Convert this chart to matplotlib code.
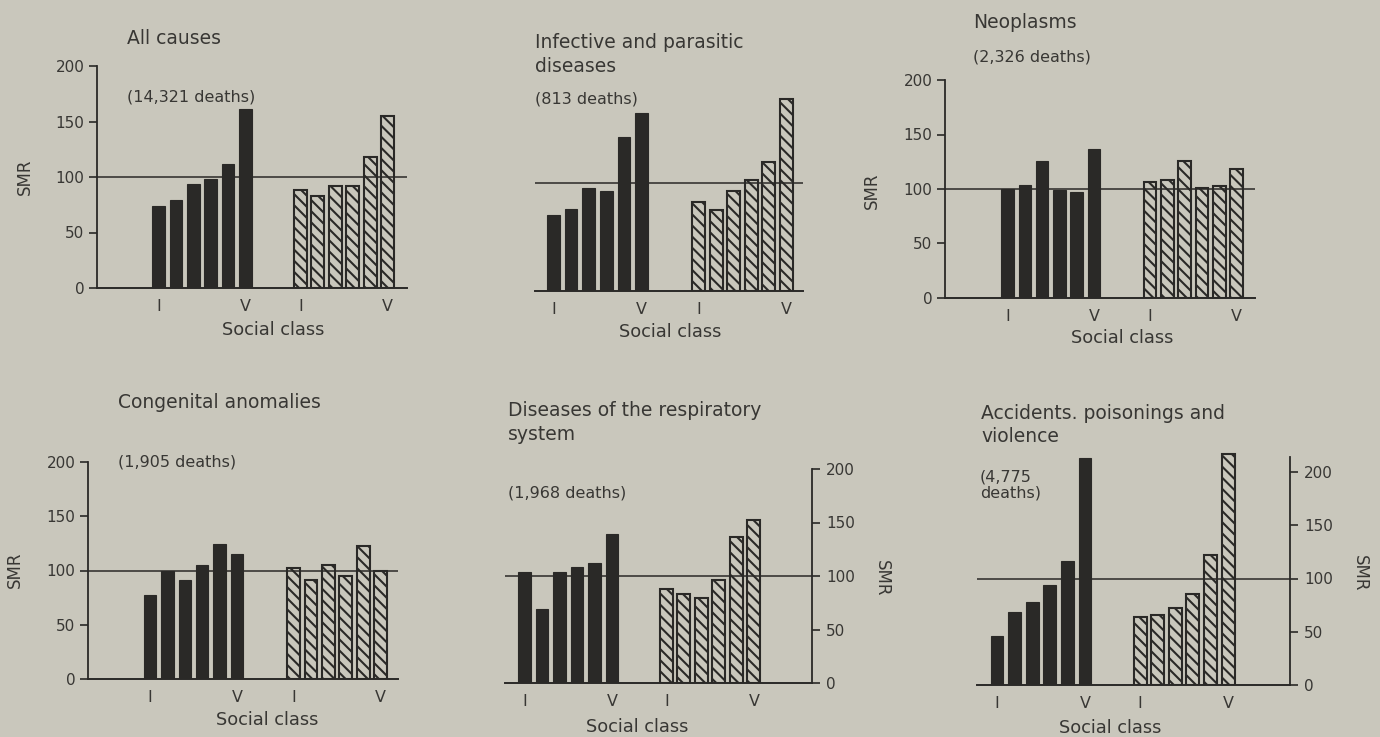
import matplotlib
matplotlib.use("Agg")
import matplotlib.pyplot as plt
import numpy as np

plt.rcParams['font.family'] = ['DejaVu Sans']
plt.rcParams['hatch.linewidth'] = 1.5

W, H = 1380, 737
BG = "#c9c7bc"
INK = "#2a2927"
TXT = "#383734"

# ---------------- data ----------------
titles = ["All causes",
          "Infective and parasitic\ndiseases",
          "Neoplasms",
          "Congenital anomalies",
          "Diseases of the respiratory\nsystem",
          "Accidents. poisonings and\nviolence"]
deaths = ["(14,321 deaths)", "(813 deaths)", "(2,326 deaths)",
          "(1,905 deaths)", "(1,968 deaths)", "(4,775\ndeaths)"]
class_labels = ["I", "V", "I", "V"]
y_ticks = [0, 50, 100, 150, 200]
reference_smr = 100

solid_all = [74, 79, 94, 98, 112, 161]
hatched_all = [88, 83, 92, 92, 118, 155]
solid_inf = [70, 76, 95, 93, 143, 165]
hatched_inf = [82, 75, 93, 103, 119, 178]
solid_neo = [100, 104, 126, 99, 97, 137]
hatched_neo = [106, 108, 126, 101, 103, 118]
solid_con = [77, 100, 91, 105, 124, 115]
hatched_con = [102, 91, 105, 95, 123, 100]
solid_res = [104, 69, 104, 108, 112, 139]
hatched_res = [88, 83, 79, 96, 136, 152]
solid_acc = [46, 69, 78, 94, 116, 213]
hatched_acc = [64, 66, 72, 85, 122, 217]

solid_series = [solid_all, solid_inf, solid_neo, solid_con, solid_res, solid_acc]
hatched_series = [hatched_all, hatched_inf, hatched_neo, hatched_con, hatched_res, hatched_acc]

# ---------------- layout (pixels) ----------------
layouts = [
    dict(l=97, r=407, y0=288, pxu=1.11, ymax=205, c0=158.5, sp=17.4, off=8.16, side='left', top=200),
    dict(l=535, r=803, y0=291, pxu=1.08, ymax=200, c0=553.5, sp=17.6, off=8.24, side=None, top=200),
    dict(l=945, r=1255, y0=298, pxu=1.09, ymax=200, c0=1007.5, sp=17.3, off=8.24, side='left', top=200),
    dict(l=88, r=398, y0=679, pxu=1.085, ymax=200, c0=150, sp=17.4, off=8.25, side='left', top=200),
    dict(l=505, r=812, y0=683, pxu=1.07, ymax=200, c0=524.5, sp=17.5, off=8.11, side='right', top=200),
    dict(l=977, r=1290, y0=685, pxu=1.065, ymax=220, c0=997, sp=17.6, off=8.13, side='right', top=214),
]
title_pos = [(127, 38), (535, 54.5), (973, 22), (118, 403), (508, 422.5), (981, 425)]
deaths_pos = [(127, 97), (535, 99), (973, 57), (118, 462), (508, 493), (980, 485)]
smr_pos = [(25, 177, 90), None, (872, 191, 90), (15, 570, 90), (882, 578, 270), (1360, 573, 270)]
social_pos = [(273, 330), (670, 332), (1122, 338), (267, 720), (637, 727), (1110, 728)]

fig = plt.figure(figsize=(W / 100, H / 100), dpi=100)
fig.patch.set_facecolor(BG)


def px(x, y):
    return x / W, 1 - y / H


for i, L in enumerate(layouts):
    height_px = L['ymax'] * L['pxu']
    ax = fig.add_axes([L['l'] / W, 1 - L['y0'] / H, (L['r'] - L['l']) / W, height_px / H])
    ax.set_facecolor('none')
    xs = np.arange(6)
    xh = L['off'] + np.arange(6)
    ax.bar(xs, solid_series[i], width=0.72, color=INK, edgecolor=INK, linewidth=0.8, zorder=2)
    ax.bar(xh, hatched_series[i], width=0.74, facecolor=BG, edgecolor=INK,
           hatch='\\\\\\', linewidth=1.5, zorder=2)
    ax.axhline(reference_smr, color=INK, lw=1.1, zorder=3)
    ax.set_xlim((L['l'] - L['c0']) / L['sp'], (L['r'] - L['c0']) / L['sp'])
    ax.set_ylim(0, L['ymax'])
    ax.set_xticks([xs[0], xs[-1], xh[0], xh[-1]])
    ax.set_xticklabels(class_labels)
    ax.tick_params(axis='x', length=0, pad=8, labelsize=11.5, labelcolor=TXT)
    for s in ['top', 'left', 'right']:
        ax.spines[s].set_visible(False)
    ax.spines['bottom'].set_color(INK)
    ax.spines['bottom'].set_linewidth(1.4)
    if L['side'] is None:
        ax.set_yticks([])
    else:
        sp = ax.spines[L['side']]
        sp.set_visible(True)
        sp.set_color(INK)
        sp.set_linewidth(1.3)
        sp.set_bounds(0, L['top'])
        ax.set_yticks(y_ticks)
        ax.tick_params(axis='y', length=6, width=1.2, color=INK, pad=3,
                       labelsize=11, labelcolor=TXT)
        if L['side'] == 'right':
            ax.yaxis.tick_right()
            ax.tick_params(axis='y', pad=4)

    tx, ty = title_pos[i]
    fig.text(*px(tx, ty), titles[i], fontsize=13.5, color=TXT, ha='left', va='center', linespacing=1.3)
    dx, dy = deaths_pos[i]
    fig.text(*px(dx, dy), deaths[i], fontsize=11.5, color=TXT, ha='left', va='center', linespacing=1.15)
    if smr_pos[i] is not None:
        sx, sy, rot = smr_pos[i]
        fig.text(*px(sx, sy), "SMR", fontsize=12, color=TXT, ha='center', va='center', rotation=rot)
    cx, cy = social_pos[i]
    fig.text(*px(cx, cy), "Social class", fontsize=12.8, color=TXT, ha='center', va='center')

fig.savefig("out.png", dpi=100, facecolor=BG)
